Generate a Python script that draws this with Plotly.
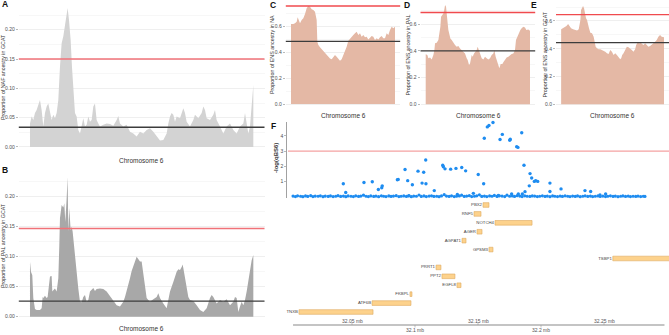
import plotly.graph_objects as go

W, H = 669, 335
def fx(px): return px / W
def fy(py): return 1 - py / H

FONT = "Liberation Sans"

# ---------------- Panel A : NAF ancestry in GCAT ----------------
a_pos = [90,95,100,105,110,115,120,125,130,135,140,145,150,155,160,165,170,175,180,185,190,195,200,203,207,212,216,220,225,230,
         235,240,245,250,255,260,265,270,275,280,285,290,295,300,310,320,330,340,350,355,360,370,380,385,390,400,410,420,430,440,
         450,460,470,480,490,500,505,510,515,520,525,530,540,550,555,560,570,580,585,595,605,610,615,620,630,640,645,650,660,670,
         680,690,700,710,720,730,735,740,745,750,755,760]
a_val = [0.040,0.052,0.046,0.058,0.063,0.070,0.080,0.063,0.035,0.058,0.069,0.074,0.058,0.046,0.055,0.049,0.058,0.080,0.137,0.177,
         0.189,0.206,0.223,0.237,0.217,0.183,0.137,0.092,0.058,0.052,0.029,0.023,0.035,0.049,0.035,0.038,0.052,0.043,0.046,0.069,
         0.074,0.046,0.040,0.035,0.038,0.040,0.039,0.036,0.046,0.053,0.040,0.035,0.038,0.032,0.026,0.023,0.018,0.026,0.023,0.029,
         0.032,0.026,0.018,0.011,0.012,0.023,0.040,0.052,0.058,0.055,0.043,0.052,0.049,0.066,0.058,0.043,0.035,0.046,0.055,0.049,
         0.058,0.069,0.063,0.049,0.046,0.055,0.063,0.046,0.035,0.023,0.035,0.040,0.029,0.023,0.035,0.040,0.058,0.040,0.023,0.035,
         0.080,0.106]
a_red, a_black = 0.150, 0.0336

# ---------------- Panel B : PAL ancestry in GCAT ----------------
b_pos = [90,93,97,100,105,110,120,125,128,130,135,140,143,147,150,155,157,160,165,170,175,178,180,185,190,193,196,200,203,205,
         208,212,215,218,222,226,230,235,240,245,250,255,260,265,270,275,280,285,290,300,310,320,330,340,345,350,360,370,375,380,
         390,395,400,405,410,415,420,425,430,435,440,445,450,460,470,475,480,490,500,505,510,520,525,530,535,540,545,548,550,555,
         560,565,570,580,590,600,610,620,630,635,640,650,660,670,680,690,700,705,710,715,720,725,730,735,740,745,750,755,760]
b_val = [0.092,0.075,0.069,0.031,0.013,0.011,0.011,0.014,0.033,0.031,0.035,0.031,0.033,0.058,0.067,0.068,0.042,0.044,0.047,0.042,
         0.064,0.119,0.164,0.186,0.182,0.189,0.158,0.197,0.233,0.142,0.181,0.144,0.150,0.142,0.119,0.086,0.069,0.047,0.025,0.024,
         0.033,0.036,0.025,0.028,0.042,0.046,0.048,0.043,0.046,0.047,0.046,0.042,0.034,0.028,0.022,0.019,0.017,0.025,0.033,0.042,
         0.064,0.076,0.086,0.092,0.100,0.096,0.092,0.092,0.069,0.047,0.031,0.028,0.025,0.029,0.033,0.039,0.031,0.022,0.014,0.028,
         0.042,0.058,0.069,0.075,0.079,0.078,0.083,0.087,0.081,0.064,0.044,0.033,0.028,0.026,0.019,0.011,0.008,0.014,0.031,0.036,
         0.033,0.022,0.028,0.025,0.029,0.019,0.025,0.033,0.031,0.008,0.017,0.025,0.019,0.028,0.042,0.058,0.081,0.094,0.103]
b_red, b_black = 0.147, 0.026

# ---------------- Panel C : ENS ancestry in NA ----------------
c_pos = [18,25,30,35,38,42,45,50,55,60,65,70,75,80,85,90,95,97,100,105,110,115,120,125,130,135,140,145,150,155,160,165,170,
         175,180,185,190,195,200,205,210,215,220,225,230,235,240,245,250,255,260,265,270,275,280,285,290,295,300,305,310,315,
         320,325,330]
c_val = [0.615,0.615,0.621,0.633,0.667,0.641,0.621,0.646,0.659,0.692,0.736,0.754,0.749,0.728,0.723,0.710,0.646,0.479,0.454,
         0.436,0.421,0.403,0.390,0.377,0.359,0.351,0.344,0.364,0.377,0.364,0.344,0.333,0.344,0.377,0.403,0.441,0.487,0.505,0.518,
         0.531,0.544,0.556,0.531,0.544,0.518,0.531,0.513,0.518,0.497,0.513,0.523,0.518,0.492,0.505,0.497,0.513,0.523,0.505,0.505,
         0.544,0.531,0.569,0.595,0.582,0.595]
c_red, c_black = 0.754, 0.482

# ---------------- Panel D : ENS ancestry in PAL ----------------
d_pos = [62,67,70,75,80,85,88,90,95,100,103,106,108,112,115,118,120,123,125,128,130,133,136,140,145,150,155,160,165,170,175,
         180,185,188,192,195,200,203,207,212,215,218,222,225,230,235,240,245,250,255,260,265,268,272,276,280,283,287,292,296,
         300,305,310,315,320,325,330,333,337,342,346,350,355,360,364,370,375]
d_val = [0.374,0.369,0.344,0.351,0.336,0.369,0.406,0.456,0.461,0.481,0.531,0.580,0.655,0.667,0.680,0.710,0.742,0.730,0.655,
         0.605,0.555,0.531,0.493,0.481,0.456,0.443,0.431,0.436,0.418,0.406,0.394,0.381,0.344,0.331,0.294,0.306,0.369,0.356,0.381,
         0.394,0.406,0.431,0.401,0.381,0.344,0.336,0.356,0.344,0.336,0.344,0.369,0.381,0.406,0.356,0.319,0.281,0.269,0.301,0.301,
         0.319,0.331,0.351,0.356,0.369,0.376,0.381,0.406,0.481,0.506,0.531,0.555,0.568,0.580,0.575,0.555,0.560,0.550]
d_red, d_black = 0.687, 0.400

# ---------------- Panel E : ENS ancestry in GCAT ----------------
e_pos = [92,97,102,108,113,118,122,128,135,140,145,148,150,152,155,158,161,164,167,170,173,176,180,185,190,193,196,200,205,
         210,215,220,225,230,235,240,245,250,255,260,265,270,273,276,280,285,290,295,300,305,310,315,318,322,328,332,336,340,
         345,350,355,360,365,370,375,380,385,390,395,402]
e_val = [0.540,0.547,0.555,0.564,0.579,0.559,0.547,0.540,0.535,0.531,0.540,0.571,0.607,0.679,0.699,0.708,0.691,0.643,0.619,
         0.607,0.571,0.547,0.516,0.511,0.487,0.439,0.415,0.403,0.396,0.396,0.391,0.387,0.379,0.367,0.363,0.391,0.379,0.355,0.367,
         0.355,0.343,0.324,0.331,0.355,0.367,0.391,0.415,0.411,0.403,0.391,0.379,0.396,0.427,0.444,0.439,0.444,0.435,0.427,0.439,
         0.427,0.415,0.420,0.427,0.439,0.451,0.463,0.487,0.499,0.487,0.483]
e_red, e_black = 0.646, 0.444

# ---------------- Panel F : association + genes ----------------
snp_pos = [32.0431,32.0450,32.0595,32.0661,32.0709,32.0736,32.0740,32.0860,32.0867,32.0921,32.0942,32.0979,32.1024,32.1056,
           32.1069,32.1085,32.1087,32.1153,32.1220,32.1225,32.1238,32.1283,32.1325,32.1371,32.1402,32.1502,32.1545,32.1550,
           32.1574,32.1587,32.1619,32.1675,32.1693,32.1752,32.1756,32.1807,32.1817,32.1847,32.1865,32.1913,32.1926,32.1907,
           32.1947,32.1958,32.1974,32.2071,32.2071,32.2159,32.2349,32.2394,32.2468,32.2513,32.1852,32.1873,32.1820,32.0952,
           32.1336,32.1463,32.1661,32.1767]
snp_val = [0.87,0.29,0.95,1.00,0.49,0.60,0.73,1.13,1.15,1.80,1.07,0.80,1.69,0.91,1.62,2.42,0.87,0.42,2.07,1.98,1.84,1.82,1.87,
           1.93,1.71,1.47,0.87,3.84,4.58,4.67,4.87,3.76,4.09,3.71,3.78,3.29,3.24,4.20,2.07,1.53,1.24,0.73,1.02,1.07,1.02,0.91,0.36,
           0.53,0.42,0.36,0.13,0.20,0.20,0.35,0.20,0.09,0.17,0.24,0.10,0.20]
base_pos = [32.0032,32.0051,32.0068,32.0092,32.0110,32.0131,32.0149,32.0172,32.0190,32.0208,32.0231,32.0249,32.0270,32.0288,
            32.0311,32.0329,32.0350,32.0371,32.0389,32.0410,32.0432,32.0451,32.0469,32.0492,32.0511,32.0530,32.0552,32.0570,
            32.0591,32.0612,32.0630,32.0649,32.0672,32.0690,32.0711,32.0733,32.0751,32.0770,32.0792,32.0810,32.0829,32.0851,
            32.0872,32.0890,32.0911,32.0932,32.0950,32.0971,32.0990,32.1011,32.1032,32.1050,32.1071,32.1090,32.1112,32.1131,
            32.1150,32.1172,32.1191,32.1210,32.1232,32.1250,32.1271,32.1290,32.1311,32.1330,32.1352,32.1370,32.1391,32.1410,
            32.1431,32.1450,32.1472,32.1490,32.1511,32.1530,32.1551,32.1570,32.1592,32.1611,32.1630,32.1651,32.1670,32.1691,
            32.1712,32.1730,32.1751,32.1772,32.1790,32.1811,32.1832,32.1850,32.1871,32.1890,32.1912,32.1931,32.1950,32.1971,
            32.1990,32.2011,32.2032,32.2050,32.2071,32.2092,32.2110,32.2131,32.2152,32.2170,32.2191,32.2212,32.2230,32.2251,
            32.2272,32.2290,32.2311,32.2332,32.2350,32.2371,32.2392,32.2410,32.2431,32.2452,32.2470,32.2491,32.2512,32.2530,
            32.2551,32.2572,32.2590,32.2611,32.2632,32.2650,32.2671,32.2692,32.2710,32.2731,32.2752,32.2770,32.2791,32.2812,
            32.2825]
base_val = [0.06,0.03,0.08,0.05,0.02,0.07,0.04,0.09,0.03,0.06,0.05,0.08,0.02,0.06,0.04,0.07,0.03,0.05,0.09,0.04,
            0.06,0.02,0.07,0.05,0.03,0.08,0.04,0.06,0.12,0.05,0.03,0.07,0.04,0.06,0.02,0.08,0.05,0.03,0.07,0.04,
            0.06,0.09,0.03,0.05,0.07,0.04,0.08,0.02,0.06,0.05,0.13,0.04,0.07,0.03,0.06,0.08,0.04,0.05,0.02,0.07,
            0.15,0.06,0.04,0.08,0.03,0.05,0.07,0.12,0.04,0.06,0.09,0.03,0.05,0.08,0.14,0.04,0.06,0.03,0.07,0.05,
            0.10,0.04,0.08,0.06,0.03,0.12,0.05,0.07,0.04,0.09,0.06,0.03,0.08,0.05,0.04,0.07,0.06,0.03,0.05,0.08,
            0.04,0.06,0.02,0.07,0.05,0.03,0.06,0.04,0.08,0.05,0.03,0.06,0.04,0.07,0.02,0.05,0.08,0.04,0.06,0.03,
            0.05,0.07,0.04,0.06,0.03,0.05,0.08,0.04,0.06,0.02,0.05,0.07,0.04,0.06,0.03,0.05,0.04,0.06,0.03,0.05,0.04]
f_red = 3.0

gene_names = ["TNXB","ATF6B","FKBPL","EGFL8","PPT2","PRRT1","TSBP1","GPSM3","AGPAT1","AGER","NOTCH4","RNF5","PBX2"]
gene_start = [32.0079,32.0659,32.0960,32.1333,32.1214,32.1167,32.2570,32.1587,32.1373,32.1492,32.1635,32.1468,32.1540]
gene_end   = [32.0667,32.0968,32.0976,32.1365,32.1317,32.1206,32.3400,32.1619,32.1405,32.1532,32.1929,32.1524,32.1587]
gene_row   = list(range(len(gene_names)))

mb_ticks = [32.05, 32.10, 32.15, 32.20, 32.25]
mb_labels = ["32.05 mb", "32.1 mb", "32.15 mb", "32.2 mb", "32.25 mb"]

# ---------------- styles ----------------
GRID = "#EBEBEB"
TICKC = "#4D4D4D"
RED_AB = "#F07278"
RED_CE = "#F04A4E"
RED_F = "#F4A2A2"
BLACK = "#3C3C3C"
SALMON = "#E4B8A5"

fig = go.Figure()

def area(xs, ys, color, xa, ya):
    fig.add_trace(go.Scatter(x=xs, y=ys, mode="lines", fill="tozeroy", fillcolor=color,
                             line=dict(width=0, color=color), xaxis=xa, yaxis=ya,
                             hoverinfo="skip", showlegend=False))

area(a_pos, a_val, "#D3D3D3", "x", "y")
area(b_pos, b_val, "#A8A8A8", "x2", "y2")
area(c_pos, c_val, SALMON, "x3", "y3")
area(d_pos, d_val, SALMON, "x4", "y4")
area(e_pos, e_val, SALMON, "x5", "y5")

# F scatter
fig.add_trace(go.Scatter(x=base_pos[:len(base_val)], y=base_val[:len(base_pos)], mode="markers",
                         marker=dict(size=3.2, color="#1E8CF0"), xaxis="x6", yaxis="y6",
                         cliponaxis=False, showlegend=False, hoverinfo="skip"))
fig.add_trace(go.Scatter(x=snp_pos, y=snp_val, mode="markers",
                         marker=dict(size=3.4, color="#1E8CF0"), xaxis="x6", yaxis="y6",
                         cliponaxis=False, showlegend=False, hoverinfo="skip"))

# genes
fig.add_trace(go.Bar(y=gene_row, x=[e - s for s, e in zip(gene_start, gene_end)], base=gene_start,
                     orientation="h", width=0.52,
                     marker=dict(color="#FDD28C", line=dict(color="#DDAA60", width=0.6)),
                     xaxis="x7", yaxis="y7", showlegend=False, hoverinfo="skip"))
fig.add_trace(go.Scatter(x=[s - 0.0008 for s in gene_start], y=gene_row, mode="text", text=gene_names,
                         textposition="middle left", textfont=dict(size=4.3, color="#444444", family=FONT),
                         xaxis="x7", yaxis="y7", cliponaxis=False, showlegend=False, hoverinfo="skip"))

# ---------------- axes ----------------
def xax(d0, d1, r0, r1, anchor):
    return dict(domain=[fx(d0), fx(d1)], range=[r0, r1], showticklabels=False, showgrid=False,
                zeroline=False, ticks="", showline=False, anchor=anchor, fixedrange=True)

def yax(d0, d1, r0, r1, tv, tt, anchor, minor=None):
    ax = dict(domain=[fy(d1), fy(d0)], range=[r0, r1], tickvals=tv, ticktext=tt,
              tickfont=dict(size=5, color=TICKC, family=FONT), ticks="outside", ticklen=2,
              tickwidth=0.6, tickcolor="#8A8A8A", showgrid=True, gridcolor=GRID, gridwidth=0.8,
              zeroline=False, showline=False, anchor=anchor, fixedrange=True)
    if minor:
        ax["minor"] = dict(tickvals=minor, showgrid=True, gridcolor=GRID, gridwidth=0.4, ticks="")
    return ax

ab_tv = [0, 0.05, 0.10, 0.15, 0.20]
ab_tt = ["0.00", "0.05", "0.10", "0.15", "0.20"]
ab_minor = [0.025, 0.075, 0.125, 0.175, 0.225]
ce_tv = [0, 0.2, 0.4, 0.6]
ce_tt = ["0.0", "0.2", "0.4", "0.6"]
ce_minor = [0.1, 0.3, 0.5, 0.7]

layout = dict(
    width=W, height=H, margin=dict(l=0, r=0, t=0, b=0),
    paper_bgcolor="white", plot_bgcolor="white",
    font=dict(family=FONT, color="#333333"),
    bargap=0,
    xaxis=xax(18.8, 264.5, 56.5, 793.5, "y"),
    yaxis=yax(1, 154, -0.012, 0.249, ab_tv, ab_tt, "x", ab_minor),
    xaxis2=xax(18.8, 264.5, 56.5, 793.5, "y2"),
    yaxis2=yax(169.7, 323.7, -0.0117, 0.245, ab_tv, ab_tt, "x2", ab_minor),
    xaxis3=xax(285.8, 400.2, 2.4, 345.6, "y3"),
    yaxis3=yax(0, 109, -0.038, 0.800, ce_tv, ce_tt, "x3", ce_minor),
    xaxis4=xax(420.5, 535.2, 46.35, 390.65, "y4"),
    yaxis4=yax(0, 109.3, -0.037, 0.780, ce_tv, ce_tt, "x4", ce_minor),
    xaxis5=xax(556.0, 669.0, 76.5, 417.0, "y5"),
    yaxis5=yax(1, 109.2, -0.0354, 0.744, ce_tv, ce_tt, "x5", ce_minor),
    xaxis6=xax(287, 669, 31.99841, 32.30159, "y6"),
    yaxis6=dict(domain=[fy(198), fy(122)], range=[-0.065, 4.9], tickvals=[1, 2, 3, 4],
                tickfont=dict(size=5, color=TICKC, family=FONT), ticks="outside", ticklen=2,
                tickwidth=0.6, tickcolor="#8A8A8A", showgrid=False, zeroline=False,
                showline=True, linecolor="#8A8A8A", linewidth=0.8, anchor="x6", fixedrange=True),
    xaxis7=xax(287, 669, 31.99841, 32.30159, "y7"),
    yaxis7=dict(domain=[fy(325), fy(200)], range=[-1.458, 12.56], visible=False, anchor="x7",
                fixedrange=True),
)
fig.update_layout(**layout)

shapes = []
def hline(xa, ya, yv, color, w=1.4):
    shapes.append(dict(type="line", xref=f"{xa} domain", yref=ya, x0=0, x1=1, y0=yv, y1=yv,
                       line=dict(color=color, width=w), layer="above"))

hline("x", "y", a_red, RED_AB)
hline("x", "y", a_black, BLACK)
hline("x2", "y2", b_red, RED_AB)
hline("x2", "y2", b_black, BLACK)
hline("x3", "y3", c_red, RED_CE)
hline("x3", "y3", c_black, BLACK, 1.2)
hline("x4", "y4", d_red, RED_CE)
hline("x4", "y4", d_black, BLACK, 1.2)
hline("x5", "y5", e_red, RED_CE)
hline("x5", "y5", e_black, BLACK, 1.2)
shapes.append(dict(type="line", xref="x6", yref="y6", x0=31.99921, x1=32.30159, y0=f_red, y1=f_red,
                   line=dict(color=RED_F, width=1.2), layer="below"))

# genomic axis
shapes.append(dict(type="line", xref="x7", yref="y7 domain", x0=32.0032, x1=32.2980, y0=0, y1=0,
                   line=dict(color="#C4C4C4", width=1.8)))
annotations = []
for i, (tv, tl) in enumerate(zip(mb_ticks, mb_labels)):
    up = (i % 2 == 0)
    shapes.append(dict(type="line", xref="x7", yref="paper", x0=tv, x1=tv,
                       y0=fy(325), y1=fy(322.5 if up else 327.5), line=dict(color="#9A9A9A", width=0.6)))
    annotations.append(dict(x=tv, xref="x7", y=fy(320.5 if up else 330.3), yref="paper",
                            text=tl, showarrow=False, xanchor="center", yanchor="middle", borderpad=0,
                            font=dict(size=5, color="#555555", family=FONT)))

fig.update_layout(shapes=shapes)

def ann(px, py, text, size, bold=False, angle=0, xanchor="center", color="#333333"):
    annotations.append(dict(x=fx(px), y=fy(py), xref="paper", yref="paper",
                            text=f"<b>{text}</b>" if bold else text, showarrow=False,
                            textangle=angle, xanchor=xanchor, yanchor="middle", borderpad=0,
                            font=dict(size=size, color=color, family=FONT)))

# panel tags
ann(1, 4, "A", 8.5, True, xanchor="left", color="#111")
ann(1, 170, "B", 8.5, True, xanchor="left", color="#111")
ann(269, 5, "C", 8.5, True, xanchor="left", color="#111")
ann(403, 5, "D", 8.5, True, xanchor="left", color="#111")
ann(530, 5, "E", 8.5, True, xanchor="left", color="#111")
ann(270, 126, "F", 8.5, True, xanchor="left", color="#111")

# x titles
ann(141, 160, "Chromosome 6", 6.5)
ann(141, 328.5, "Chromosome 6", 6.5)
ann(343, 115, "Chromosome 6", 6.5)
ann(478, 115, "Chromosome 6", 6.5)
ann(612, 115, "Chromosome 6", 6.5)

# y titles
ann(3, 77, "Proportion of NAF ancestry in GCAT", 5.3, angle=-90)
ann(3, 246, "Proportion of PAL ancestry in GCAT", 5.3, angle=-90)
ann(272, 55, "Proportion of ENS ancestry in NA", 5.3, angle=-90)
ann(407.5, 55, "Proportion of ENS ancestry in PAL", 5.3, angle=-90)
ann(544.5, 55, "Proportion of ENS ancestry in GCAT", 5.3, angle=-90)
ann(276, 158, "-log(qBS6)", 6, True, angle=-90)

fig.update_layout(annotations=annotations)

fig.write_html("out.html", config={"displayModeBar": False, "staticPlot": True},
               post_script="document.body.style.margin='0px';document.body.style.overflow='hidden';")
